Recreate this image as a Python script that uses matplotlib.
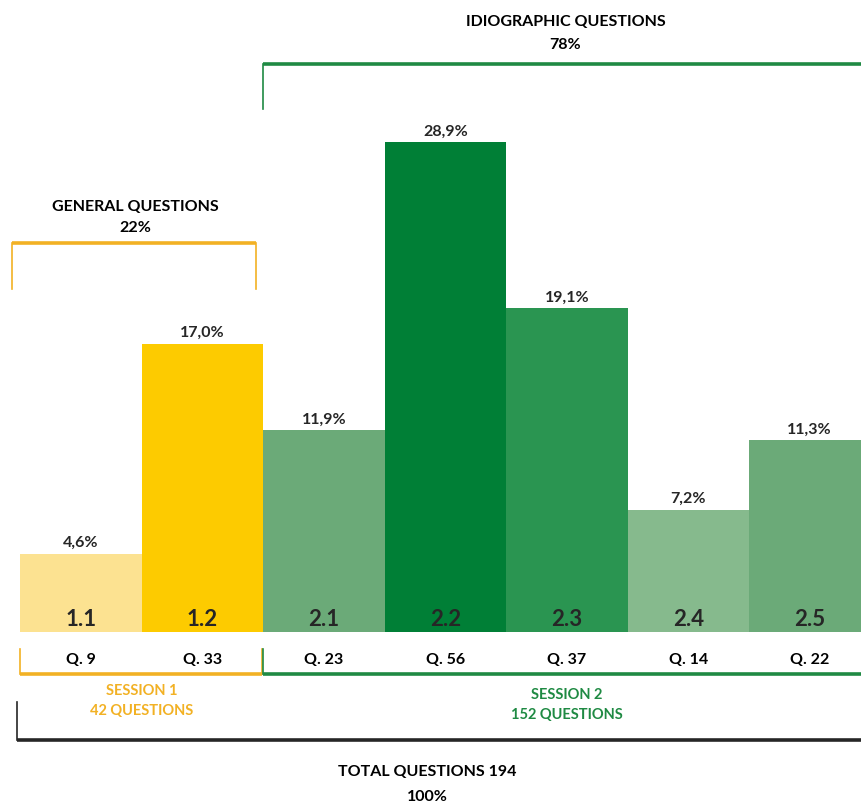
import numpy as np
import matplotlib.pyplot as plt

# Data
codes   = ["1.1", "1.2", "2.1", "2.2", "2.3", "2.4", "2.5"]
queries = ["Q. 9", "Q. 33", "Q. 23", "Q. 56", "Q. 37", "Q. 14", "Q. 22"]
shares  = [4.6, 17.0, 11.9, 28.9, 19.1, 7.2, 11.3]
colors  = ["#FCE291", "#FDCB00", "#6BAA78", "#007F36", "#2A9551", "#86BA8D", "#6BAA78"]

session_names  = ["SESSION 1", "SESSION 2"]
session_counts = [42, 152]
total_count    = 194
group_shares   = [22, 78]

yellow = "#F2B124"
green  = "#1F8A43"
dark   = "#262626"

plt.rcParams["font.family"] = ["Lato", "DejaVu Sans"]


def bracket(ax, x0, x1, y_line, y_end, color, left=True, right=True):
    # thick horizontal line with thin end ticks
    ax.plot([x0, x1], [y_line, y_line], color=color, lw=2.6, solid_capstyle="butt")
    if left:
        ax.plot([x0, x0], [y_line, y_end], color=color, lw=1.2)
    if right:
        ax.plot([x1, x1], [y_line, y_end], color=color, lw=1.2)


fig = plt.figure(figsize=(8.62, 8.04), dpi=100)
ax = fig.add_axes([0, 0, 1, 1])
ax.set_xlim(-0.665, 6.43)
ax.set_ylim(-10.09, 37.35)
ax.axis("off")

x = np.arange(len(codes))
ax.bar(x, shares, width=1.0, color=colors, linewidth=0)

for xi, v, c, q in zip(x, shares, codes, queries):
    ax.text(xi, v + 0.7, ("%.1f%%" % v).replace(".", ","), ha="center", va="center",
            fontsize=11.5, fontweight="bold", color=dark)
    ax.text(xi, 0.77, c, ha="center", va="center", fontsize=16, fontweight="bold", color=dark)
    ax.text(xi, -1.59, q, ha="center", va="center", fontsize=11.5, fontweight="bold", color="black")

# session brackets
bracket(ax, -0.5, 1.49, -2.48, -1.0, yellow)
bracket(ax, 1.5, 6.5, -2.5, -1.0, green, right=False)
ax.text(0.5, -3.42, session_names[0], ha="center", va="center", fontsize=10.5,
        fontweight="bold", color=yellow)
ax.text(0.5, -4.6, "%d QUESTIONS" % session_counts[0], ha="center", va="center",
        fontsize=10.5, fontweight="bold", color=yellow)
ax.text(4.0, -3.66, session_names[1], ha="center", va="center", fontsize=10.5,
        fontweight="bold", color=green)
ax.text(4.0, -4.84, "%d QUESTIONS" % session_counts[1], ha="center", va="center",
        fontsize=10.5, fontweight="bold", color=green)

# total bracket
bracket(ax, -0.525, 6.5, -6.37, -4.13, dark, right=False)
ax.text(2.85, -8.2, "TOTAL QUESTIONS %d" % total_count, ha="center", va="center",
        fontsize=11.5, fontweight="bold", color="black")
ax.text(2.85, -9.68, "100%", ha="center", va="center", fontsize=11.5,
        fontweight="bold", color="black")

# group brackets
bracket(ax, -0.566, 1.44, 22.95, 20.24, yellow)
ax.text(0.447, 25.13, "GENERAL QUESTIONS", ha="center", va="center", fontsize=11.5,
        fontweight="bold", color="black")
ax.text(0.447, 23.89, "%d%%" % group_shares[0], ha="center", va="center", fontsize=11.5,
        fontweight="bold", color="black")

bracket(ax, 1.5, 6.5, 33.51, 30.86, green, right=False)
ax.text(3.99, 36.05, "IDIOGRAPHIC QUESTIONS", ha="center", va="center", fontsize=11.5,
        fontweight="bold", color="black")
ax.text(3.99, 34.69, "%d%%" % group_shares[1], ha="center", va="center", fontsize=11.5,
        fontweight="bold", color="black")

fig.savefig("out.png", dpi=100, facecolor="white")
plt.close(fig)
